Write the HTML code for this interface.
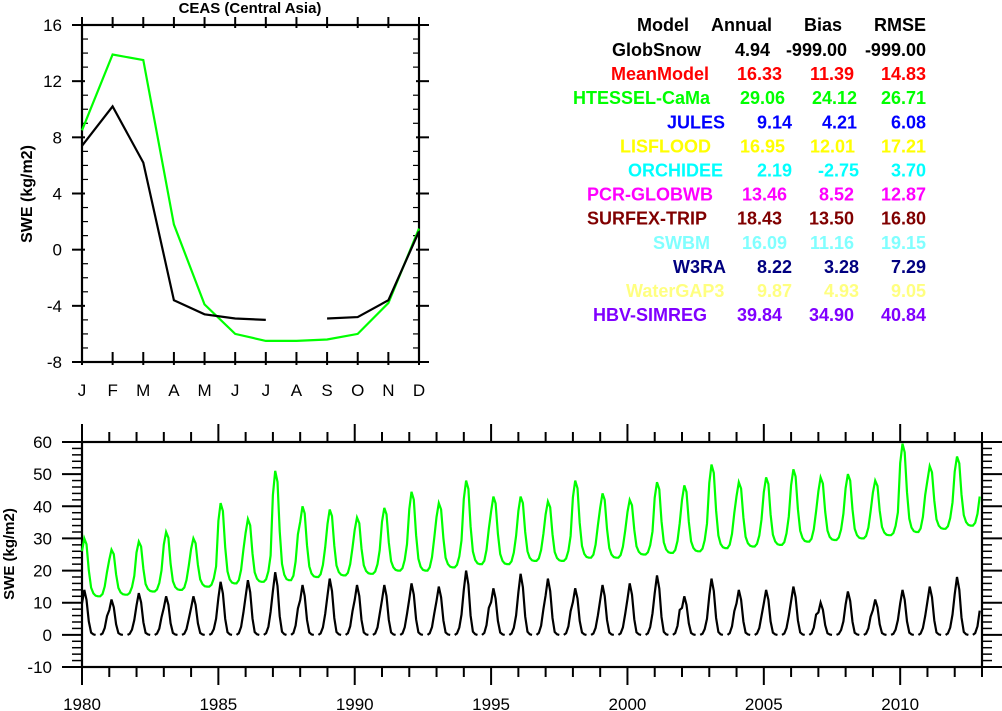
<!DOCTYPE html>
<html><head><meta charset="utf-8"><style>
html,body{margin:0;padding:0;background:#fff;}
svg{display:block;font-family:"Liberation Sans",Arial,sans-serif;}
</style></head><body>
<svg id="svg" width="1002" height="711" viewBox="0 0 1002 711">
<g id="topg"></g>
<g id="bot"></g>
<g id="leg"></g>
</svg>
<script>
// ---- Climatology panel data ----
const months = ["J","F","M","A","M","J","J","A","S","O","N","D"];
const climYTicks = [-8,-4,0,4,8,12,16];
const climGreen = [8.5,13.9,13.5,1.8,-3.9,-6.0,-6.5,-6.5,-6.4,-6.0,-3.8,1.5];
const climBlack = [7.4,10.2,6.2,-3.6,-4.6,-4.9,-5.0,null,-4.9,-4.8,-3.6,1.3];

// ---- Time series data (per year peak/min, monthly seasonal profile) ----
const years = [1980,1981,1982,1983,1984,1985,1986,1987,1988,1989,1990,1991,1992,1993,1994,1995,1996,1997,1998,1999,2000,2001,2002,2003,2004,2005,2006,2007,2008,2009,2010,2011,2012];
const greenPeak = [30,26.5,29,32,30,41,36,51,40,39,36.5,39.5,44.5,41,48,43,43,41.5,48,44,42,47.5,46.5,53,47.5,49,51.5,49,50,48,59.5,52.5,55.5];
const greenMin = [12,12.5,13.5,14,15,16,16.5,17,18,18.5,19,20,20,21,22,22,23,23,24,24,25,25.5,26,27,27.5,28,29,29.5,30,31,32,33,34];
const blackPeak = [14,11,13,12,12,16.5,17,19.5,15.5,17.5,15.5,15.5,16,15,20,14.5,19,17.5,14.5,15.5,16,18.5,12,17.5,14,14,15,10,13.5,11,14,15,18];
const greenProfile = [0.78,1.0,0.9,0.45,0.15,0.05,0.01,0,0,0.04,0.17,0.42];
const blackProfile = [0.7,1.0,0.78,0.3,0.05,0.01,0,null,0,0.03,0.15,0.42];
const tsYTicks = [-10,0,10,20,30,40,50,60];
const tsXTicks = [1980,1985,1990,1995,2000,2005,2010];

// ---- Table data ----
const modelNames = ["GlobSnow","MeanModel","HTESSEL-CaMa","JULES","LISFLOOD","ORCHIDEE","PCR-GLOBWB","SURFEX-TRIP","SWBM","W3RA","WaterGAP3","HBV-SIMREG"];
const annualVals = ["4.94","16.33","29.06","9.14","16.95","2.19","13.46","18.43","16.09","8.22","9.87","39.84"];
const biasVals = ["-999.00","11.39","24.12","4.21","12.01","-2.75","8.52","13.50","11.16","3.28","4.93","34.90"];
const rmseVals = ["-999.00","14.83","26.71","6.08","17.21","3.70","12.87","16.80","19.15","7.29","9.05","40.84"];
const modelColors = ["#000","#ff0000","#00ff00","#0000ff","#ffff00","#00ffff","#ff00ff","#800000","#80ffff","#000080","#ffff80","#8000ff"];

const NS="http://www.w3.org/2000/svg";
function mk(parent,tag,attrs,text){const e=document.createElementNS(NS,tag);for(const k in attrs)e.setAttribute(k,attrs[k]);if(text!==undefined)e.textContent=text;parent.appendChild(e);return e;}
function line(p,x1,y1,x2,y2,w){return mk(p,'line',{x1:x1,y1:y1,x2:x2,y2:y2,stroke:'#000','stroke-width':w||1.5});}
function pathFrom(pts){let d='',pen=false;for(const p of pts){if(p===null){pen=false;continue;}d+=(pen?'L':'M')+p[0].toFixed(1)+' '+p[1].toFixed(1);pen=true;}return d;}

// ===== Top panel =====
const topG=document.getElementById('topg');
const L1=82,R1=419,T1=25,B1=362;
const cx=i=>L1+(R1-L1)*i/11;
const cy=v=>B1-(v+8)/24*(B1-T1);
const ttl=mk(topG,'text',{x:250,y:13,'text-anchor':'middle','font-size':15,'font-weight':'bold'},'CEAS (Central Asia)');


for(let v=-8;v<=16;v+=1){const y=cy(v);const major=climYTicks.includes(v);
 if(major){line(topG,L1-10,y,L1+3,y,2);line(topG,R1-3,y,R1+10,y,2);}
 else{line(topG,L1,y,L1+6,y,1.2);line(topG,R1-6,y,R1,y,1.2);}}
climYTicks.forEach(v=>{const t=mk(topG,'text',{x:62,y:cy(v)+6,'text-anchor':'end','font-size':17},String(v));

});
months.forEach((m,i)=>{const x=cx(i);line(topG,x,B1+3,x,B1-10,2);line(topG,x,T1-8,x,T1+3,2);
const t=mk(topG,'text',{x:x,y:396,'text-anchor':'middle','font-size':17},m);

});
mk(topG,'rect',{x:L1,y:T1,width:R1-L1,height:B1-T1,fill:'none',stroke:'#000','stroke-width':2.2});
const yl=mk(topG,'text',{x:0,y:0,transform:'translate(32,194) rotate(-90)','text-anchor':'middle','font-size':16,'font-weight':'bold'},'SWE (kg/m2)');


const gl=mk(topG,'path',{d:pathFrom(climGreen.map((v,i)=>v===null?null:[cx(i),cy(v)])),fill:'none',stroke:'#00ff00','stroke-width':2.2});


const bl=mk(topG,'path',{d:pathFrom(climBlack.map((v,i)=>v===null?null:[cx(i),cy(v)])),fill:'none',stroke:'#000','stroke-width':2.2});



// ===== Bottom panel =====
const bot=document.getElementById('bot');
const L2=82,R2=982,T2=442,B2=667;
const tx=t=>L2+(t-1980)/33*(R2-L2);
const ty=v=>B2-(v+10)/70*(B2-T2);
for(let v=-10;v<=60;v+=2){const y=ty(v);const major=v%10===0;
 line(bot,major?L2-20:L2-10,y,L2,y,major?2:1.5);line(bot,R2,y,major?R2+20:R2+10,y,major?2:1.5);}
tsYTicks.forEach(v=>{const t=mk(bot,'text',{x:52,y:ty(v)+6,'text-anchor':'end','font-size':17},String(v));

});
for(let yr=1980;yr<=2013;yr++){const x=tx(yr);const major=yr%5===0;
 line(bot,x,T2,x,major?T2-18:T2-10,2);line(bot,x,B2,x,major?B2+18:B2+10,2);}
tsXTicks.forEach(yr=>{const t=mk(bot,'text',{x:tx(yr),y:710,'text-anchor':'middle','font-size':17},String(yr));

});
mk(bot,'rect',{x:L2,y:T2,width:R2-L2,height:B2-T2,fill:'none',stroke:'#000','stroke-width':2.2});
const yl2=mk(bot,'text',{x:0,y:0,transform:'translate(14,554) rotate(-90)','text-anchor':'middle','font-size':15,'font-weight':'bold'},'SWE (kg/m2)');


const gpts=[],bpts=[];
years.forEach((yr,yi)=>{for(let m=0;m<12;m++){const t=yr+m/12;
 const base=greenMin[yi];gpts.push([tx(t),ty(base+greenProfile[m]*(greenPeak[yi]-base))]);
 const bp=blackProfile[m];bpts.push(bp===null?null:[tx(t),ty(bp*blackPeak[yi])]);}});
const gts=mk(bot,'path',{d:pathFrom(gpts),fill:'none',stroke:'#00ff00','stroke-width':2.2});


const bts=mk(bot,'path',{d:pathFrom(bpts),fill:'none',stroke:'#000','stroke-width':2.2});



// ===== Table =====
const leg=document.getElementById('leg');
const rowY=i=>56+i*24.1;
const hdr=[["Model",689],["Annual",772],["Bias",842],["RMSE",926]];
hdr.forEach(h=>{const t=mk(leg,'text',{x:h[1],y:31,'text-anchor':'end','font-size':18,'font-weight':'bold'},h[0]);

});
const nameX=[612,611,573,667,620,628,587,587,653,673,626,593];
const annEnd=[770,782,785,792,785,792,787,782,787,792,792,782];
const biasEnd=[847,854,857,857,855,859,854,854,854,859,859,854];
modelNames.forEach((n,i)=>{const y=rowY(i),c=modelColors[i];
 const a=mk(leg,'text',{x:nameX[i],y:y,'font-size':18,'font-weight':'bold',fill:c},n);
 
 
 const b=mk(leg,'text',{x:annEnd[i],y:y,'text-anchor':'end','font-size':18,'font-weight':'bold',fill:c},annualVals[i]);
 
 
 const d=mk(leg,'text',{x:biasEnd[i],y:y,'text-anchor':'end','font-size':18,'font-weight':'bold',fill:c},biasVals[i]);
 
 
 const e=mk(leg,'text',{x:926,y:y,'text-anchor':'end','font-size':18,'font-weight':'bold',fill:c},rmseVals[i]);
 
 });
</script>
</body></html>
